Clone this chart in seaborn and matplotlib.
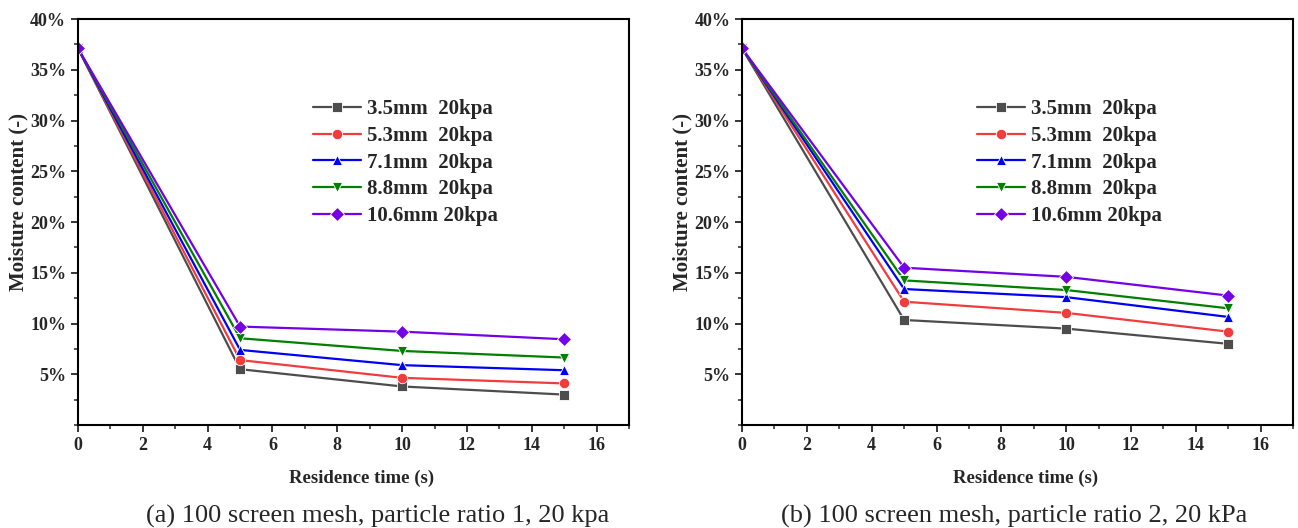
import numpy as np
import pandas as pd
import matplotlib
matplotlib.use("Agg")
import matplotlib.pyplot as plt
from matplotlib.ticker import MultipleLocator, FuncFormatter
import seaborn as sns

# ---- data ----
times = [0, 5, 10, 15]
series_labels = ["3.5mm  20kpa", "5.3mm  20kpa", "7.1mm  20kpa", "8.8mm  20kpa", "10.6mm 20kpa"]

# panel (a): 100 screen mesh, particle ratio 1, 20 kpa
a_35 = [0.371, 0.055, 0.038, 0.030]
a_53 = [0.371, 0.064, 0.0465, 0.041]
a_71 = [0.371, 0.074, 0.059, 0.054]
a_88 = [0.371, 0.0855, 0.073, 0.0665]
a_106 = [0.371, 0.097, 0.092, 0.0845]

# panel (b): 100 screen mesh, particle ratio 2, 20 kPa
b_35 = [0.371, 0.1035, 0.095, 0.080]
b_53 = [0.371, 0.1215, 0.1105, 0.092]
b_71 = [0.371, 0.134, 0.126, 0.1065]
b_88 = [0.371, 0.1425, 0.133, 0.115]
b_106 = [0.371, 0.155, 0.146, 0.1275]

captions = ["(a) 100 screen mesh, particle ratio 1, 20 kpa",
            "(b) 100 screen mesh, particle ratio 2, 20 kPa"]
y_ticks = [0.05, 0.10, 0.15, 0.20, 0.25, 0.30, 0.35, 0.40]
x_ticks = [0, 2, 4, 6, 8, 10, 12, 14, 16]

colors = ["#4d4d4d", "#f03c3c", "#0000f5", "#007f00", "#7300e6"]
markers = ["s", "o", "^", "v", "D"]

sns.set_theme(style="white")
plt.rcParams["font.family"] = ["Liberation Serif", "DejaVu Serif"]


def make_df(series):
    rows = []
    for lab, vals in zip(series_labels, series):
        for t, v in zip(times, vals):
            rows.append({"time": t, "moisture": v, "series": lab})
    return pd.DataFrame(rows)


panels = [
    make_df([a_35, a_53, a_71, a_88, a_106]),
    make_df([b_35, b_53, b_71, b_88, b_106]),
]

fig = plt.figure(figsize=(12.98, 5.28), dpi=100)
ax_positions = [[0.0601, 0.195, 0.4245, 0.769], [0.5717, 0.195, 0.4245, 0.769]]
legend_anchor = [(0.40, 0.838), (0.40, 0.838)]
caption_x = [0.291, 0.781]

for i, df in enumerate(panels):
    ax = fig.add_axes(ax_positions[i])
    sns.lineplot(data=df, x="time", y="moisture", hue="series", style="series",
                 hue_order=series_labels, style_order=series_labels,
                 palette=colors, markers=markers, dashes=False,
                 linewidth=1.6, markersize=7.5, markeredgewidth=0.6, ax=ax)
    ax.set_xlim(0, 17)
    ax.set_ylim(0, 0.40)
    ax.set_xticks(x_ticks)
    ax.set_yticks(y_ticks)
    ax.xaxis.set_minor_locator(MultipleLocator(1))
    ax.yaxis.set_minor_locator(MultipleLocator(0.025))
    ax.yaxis.set_major_formatter(FuncFormatter(lambda v, p: f"{v*100:.0f}%"))
    ax.tick_params(axis="both", which="major", direction="out", length=5, width=1.3,
                   labelsize=13, bottom=True, left=True, top=False, right=False)
    ax.tick_params(axis="both", which="minor", direction="out", length=3, width=1.1,
                   bottom=True, left=True, top=False, right=False)
    for lbl in ax.get_xticklabels() + ax.get_yticklabels():
        lbl.set_fontweight("bold")
        lbl.set_fontsize(13)
    for sp in ax.spines.values():
        sp.set_linewidth(1.5)
        sp.set_color("black")
    ax.set_xlabel("Residence time (s)", fontsize=13.5, fontweight="bold")
    ax.set_ylabel("Moisture content (-)", fontsize=15, fontweight="bold")
    ax.xaxis.set_label_coords(0.515, -0.11)
    ax.yaxis.set_label_coords(-0.09, 0.55)
    leg = ax.legend(loc="upper left", bbox_to_anchor=legend_anchor[i], frameon=False,
                    prop={"family": "Liberation Serif", "weight": "bold", "size": 15},
                    handlelength=2.3, handletextpad=0.3, labelspacing=0.32,
                    borderpad=0.2)
    fig.text(caption_x[i], 0.011, captions[i], fontsize=19, ha="center", va="baseline",
             family="Liberation Serif")

fig.savefig("out.png", dpi=100)
